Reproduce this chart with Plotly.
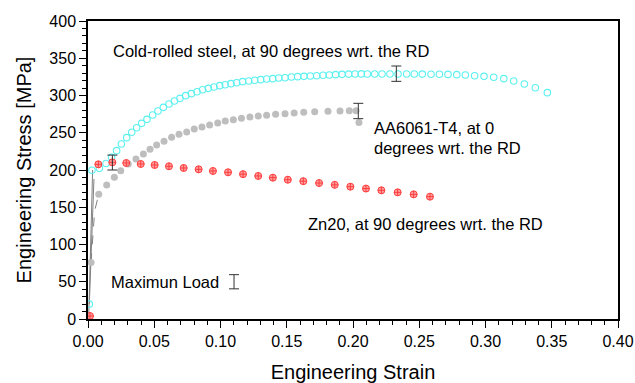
import plotly.graph_objects as go

# ---------------- data ----------------
steel_strain = [0.0010, 0.0030, 0.0086, 0.0136, 0.0178, 0.0216, 0.0252, 0.0292, 0.0330, 0.0367,
                0.0405, 0.0445, 0.0488, 0.0528, 0.0569, 0.0611, 0.0652, 0.0694, 0.0737, 0.0780,
                0.0823, 0.0865, 0.0908, 0.0951, 0.0994, 0.1036, 0.1079, 0.1122, 0.1167, 0.1213,
                0.1258, 0.1303, 0.1348, 0.1394, 0.1439, 0.1487, 0.1535, 0.1582, 0.1630, 0.1678,
                0.1726, 0.1774, 0.1821, 0.1869, 0.1917, 0.1967, 0.2015, 0.2063, 0.2108, 0.2164,
                0.2219, 0.2279, 0.2340, 0.2405, 0.2463, 0.2523, 0.2589, 0.2652, 0.2717, 0.2783,
                0.2848, 0.2918, 0.2989, 0.3062, 0.3138, 0.3213, 0.3293, 0.3376, 0.3467]
steel_stress = [20.0, 199.6, 202.2, 208.8, 217.0, 226.0, 234.9, 243.4, 250.6, 256.8,
                262.6, 268.0, 273.8, 279.2, 284.1, 288.6, 292.6, 296.2, 299.8, 302.5,
                305.1, 307.8, 309.6, 311.4, 313.2, 314.5, 315.9, 317.2, 318.6, 319.5,
                320.4, 321.3, 322.1, 322.6, 323.5, 323.9, 324.8, 325.3, 325.7, 326.2,
                326.6, 327.1, 327.5, 328.0, 328.4, 328.7, 328.9, 329.0, 328.9, 328.9,
                328.9, 328.9, 328.9, 328.9, 328.8, 328.7, 328.6, 328.5, 328.3, 328.0,
                327.5, 326.6, 325.7, 324.4, 322.6, 319.5, 315.4, 310.5, 303.8]

aa_strain = [0.0023, 0.0081, 0.0141, 0.0199, 0.0247, 0.0304, 0.0362, 0.0418, 0.0468, 0.0518,
             0.0574, 0.0631, 0.0687, 0.0745, 0.0802, 0.0860, 0.0918, 0.0979, 0.1036, 0.1097,
             0.1158, 0.1222, 0.1285, 0.1348, 0.1416, 0.1487, 0.1556, 0.1628, 0.1711, 0.1811,
             0.1902, 0.1972, 0.2023, 0.2045]
aa_stress = [76.0, 167.3, 179.9, 190.2, 199.1, 208.1, 214.8, 221.5, 227.7, 233.6,
             238.5, 243.9, 247.9, 251.0, 255.0, 257.7, 260.4, 263.1, 265.8, 267.6,
             269.6, 271.2, 272.5, 273.4, 274.7, 275.6, 276.5, 277.4, 278.3, 278.7,
             279.2, 279.6, 279.6, 263.8]

zn_strain = [0.0015, 0.0078, 0.0184, 0.0289, 0.0398, 0.0503, 0.0611, 0.0722, 0.0835, 0.0943,
             0.1057, 0.1170, 0.1285, 0.1395, 0.1508, 0.1625, 0.1744, 0.1862, 0.1980, 0.2098,
             0.2214, 0.2337, 0.2458, 0.2581]
zn_stress = [4.0, 207.6, 210.3, 209.4, 208.1, 206.7, 205.0, 202.7, 200.9, 198.7,
             196.9, 194.4, 192.0, 189.7, 187.0, 185.0, 182.5, 180.1, 177.6, 175.1,
             172.7, 170.0, 167.3, 164.2]

# elastic (linear) segments drawn as thin grey lines
elastic_a_strain = [0.0005, 0.0035]
elastic_a_stress = [0.0, 200.0]
elastic_b_strain = [0.0010, 0.0045]
elastic_b_stress = [20.0, 188.0]
elastic_c_strain = [0.0023, 0.0050, 0.0081]
elastic_c_stress = [76.0, 145.0, 167.3]

# error bars (maximum load scatter)
err_strain = [0.0184, 0.2327, 0.2040, 0.1102]
err_stress = [210.0, 329.3, 279.2, 50.0]
err_half = [10.0, 10.3, 10.3, 9.5]

# text labels
label_texts = ["Cold-rolled steel, at 90 degrees wrt. the RD", "AA6061-T4, at 0",
               "degrees wrt. the RD", "Zn20, at 90 degrees wrt. the RD", "Maximun Load"]
label_x = [0.0174, 0.2143, 0.2143, 0.1645, 0.0158]
label_y = [359.7, 256.4, 229.5, 127.5, 49.7]

x_ticks = [0.00, 0.05, 0.10, 0.15, 0.20, 0.25, 0.30, 0.35, 0.40]
y_ticks = [0, 50, 100, 150, 200, 250, 300, 350, 400]

FONT = "Liberation Sans, Arial, sans-serif"

fig = go.Figure()

for xs, ys, dash in [(elastic_a_strain, elastic_a_stress, "solid"),
                     (elastic_b_strain, elastic_b_stress, "solid"),
                     (elastic_c_strain, elastic_c_stress, "dash")]:
    fig.add_trace(go.Scatter(x=xs, y=ys, mode="lines",
                             line=dict(color="#808080", width=1, dash=dash),
                             showlegend=False, hoverinfo="skip"))

fig.add_trace(go.Scatter(x=aa_strain, y=aa_stress, mode="markers",
                         marker=dict(symbol="circle", size=7, color="#BEBEBE",
                                     line=dict(width=0)),
                         showlegend=False))

fig.add_trace(go.Scatter(x=steel_strain, y=steel_stress, mode="markers",
                         marker=dict(symbol="circle-open", size=6.5,
                                     color="#5CF0F0", line=dict(width=1.1, color="#5CF0F0")),
                         showlegend=False))

fig.add_trace(go.Scatter(x=zn_strain, y=zn_stress, mode="markers",
                         marker=dict(symbol="circle-cross", size=7,
                                     color="rgba(255,150,150,0.9)",
                                     line=dict(width=1, color="#FF3C3C")),
                         showlegend=False))

fig.add_trace(go.Scatter(x=err_strain, y=err_stress, mode="markers",
                         marker=dict(size=1, color="rgba(0,0,0,0)"),
                         error_y=dict(type="data", array=err_half, visible=True,
                                      color="#333333", thickness=1, width=5),
                         showlegend=False, hoverinfo="skip"))

for t, xv, yv in zip(label_texts, label_x, label_y):
    fig.add_annotation(x=xv, y=yv, xref="x", yref="y", text=t, showarrow=False,
                       xanchor="left", yanchor="middle",
                       font=dict(family=FONT, size=16.5, color="black"))

axis_common = dict(showline=True, linecolor="black", linewidth=1.5, mirror=True,
                   ticks="outside", ticklen=7, tickwidth=1.2, tickcolor="black",
                   showgrid=False, zeroline=False, automargin=False,
                   tickfont=dict(family=FONT, size=16, color="black"))

fig.update_xaxes(range=[0, 0.40], tickvals=x_ticks, tickformat=".2f",
                 minor=dict(dtick=0.01, ticks="outside", ticklen=4, tickcolor="black",
                            tickwidth=1.2, showgrid=False),
                 title=dict(text="Engineering Strain", standoff=16,
                            font=dict(family=FONT, size=20, color="black")),
                 **axis_common)
fig.update_yaxes(range=[0, 400], tickvals=y_ticks,
                 minor=dict(dtick=10, ticks="outside", ticklen=4, tickcolor="black",
                            tickwidth=1.2, showgrid=False),
                 title=dict(text="Engineering Stress [MPa]", standoff=12,
                            font=dict(family=FONT, size=20, color="black")),
                 **axis_common)

fig.update_layout(width=635, height=383,
                  margin=dict(l=88, r=17, t=21, b=64),
                  paper_bgcolor="white", plot_bgcolor="white",
                  font=dict(family=FONT, color="black"))

fig.write_html("out.html")
